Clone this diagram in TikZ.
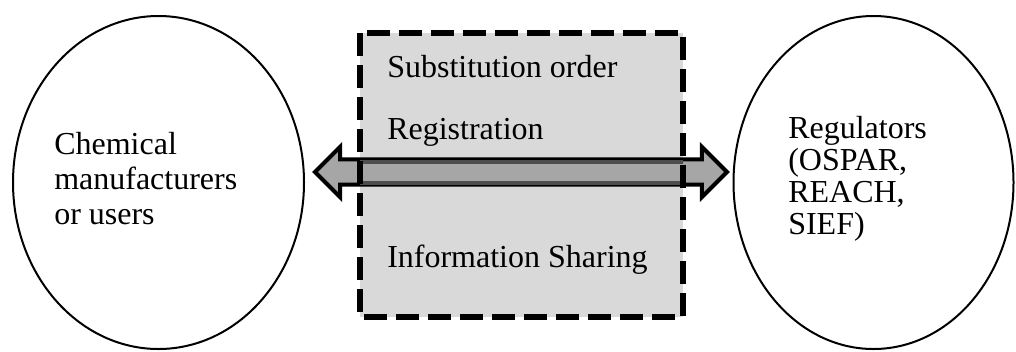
\documentclass[tikz,border=0pt]{standalone}
\usepackage{fontspec}
\setmainfont{Liberation Serif}
\usetikzlibrary{shapes.geometric,shapes.arrows}
\definecolor{boxgray}{HTML}{D9D9D9}
\definecolor{arrowgray}{HTML}{A6A6A6}
\definecolor{shaftedge}{HTML}{4D4D4D}
\tikzset{
  party/.style={ellipse, draw=black, line width=1.5pt, inner sep=0pt},
  label text/.style={anchor=base west, inner sep=0pt, font=\fontsize{24}{28}\selectfont},
  flowarrow/.style={double arrow, draw=black, fill=arrowgray, line width=3pt,
    text height=0pt, text depth=0pt, inner xsep=0pt, inner ysep=7.9pt,
    double arrow head extend=9.4pt, minimum height=309pt},
  channel/.style={draw=black, line width=4.5pt, dash pattern=on 17.25pt off 6.75pt}
}
\begin{document}
\begin{tikzpicture}[x=0.75pt,y=-0.75pt]
\useasboundingbox (0,0) rectangle (1016,351);
% central box fill
\coordinate (boxnw) at (360,33);
\coordinate (boxse) at (683,317);
\fill[boxgray] (boxnw) rectangle (boxse);
% parties
\node[party, minimum width=218.25pt, minimum height=249.75pt] (makers) at (158.5,182.5) {};
\node[party, minimum width=210pt, minimum height=249.75pt] (regs) at (873.5,182.5) {};
% double arrow
\node[flowarrow] (flow) at (521,172) {};
\begin{scope}
  \clip (boxnw) rectangle (boxse);
  \draw[shaftedge, line width=3pt] (300,161.5) -- (740,161.5);
  \draw[shaftedge, line width=3pt] (300,182.5) -- (740,182.5);
\end{scope}
% dashed border
\draw[channel] (boxnw) rectangle (boxse);
% texts
\node[label text] (t1) at (54,154) {Chemical};
\node[label text] (t2) at (54,189) {manufacturers};
\node[label text] (t3) at (54,224) {or users};
\node[label text] (r1) at (788,138) {Regulators};
\node[label text] (r2) at (788,170) {(OSPAR,};
\node[label text] (r3) at (788,202) {REACH,};
\node[label text] (r4) at (788,234) {SIEF)};
\node[label text] (b1) at (387,77) {Substitution order};
\node[label text] (b2) at (387,139) {Registration};
\node[label text] (b3) at (387,267) {Information Sharing};
\end{tikzpicture}
\end{document}
